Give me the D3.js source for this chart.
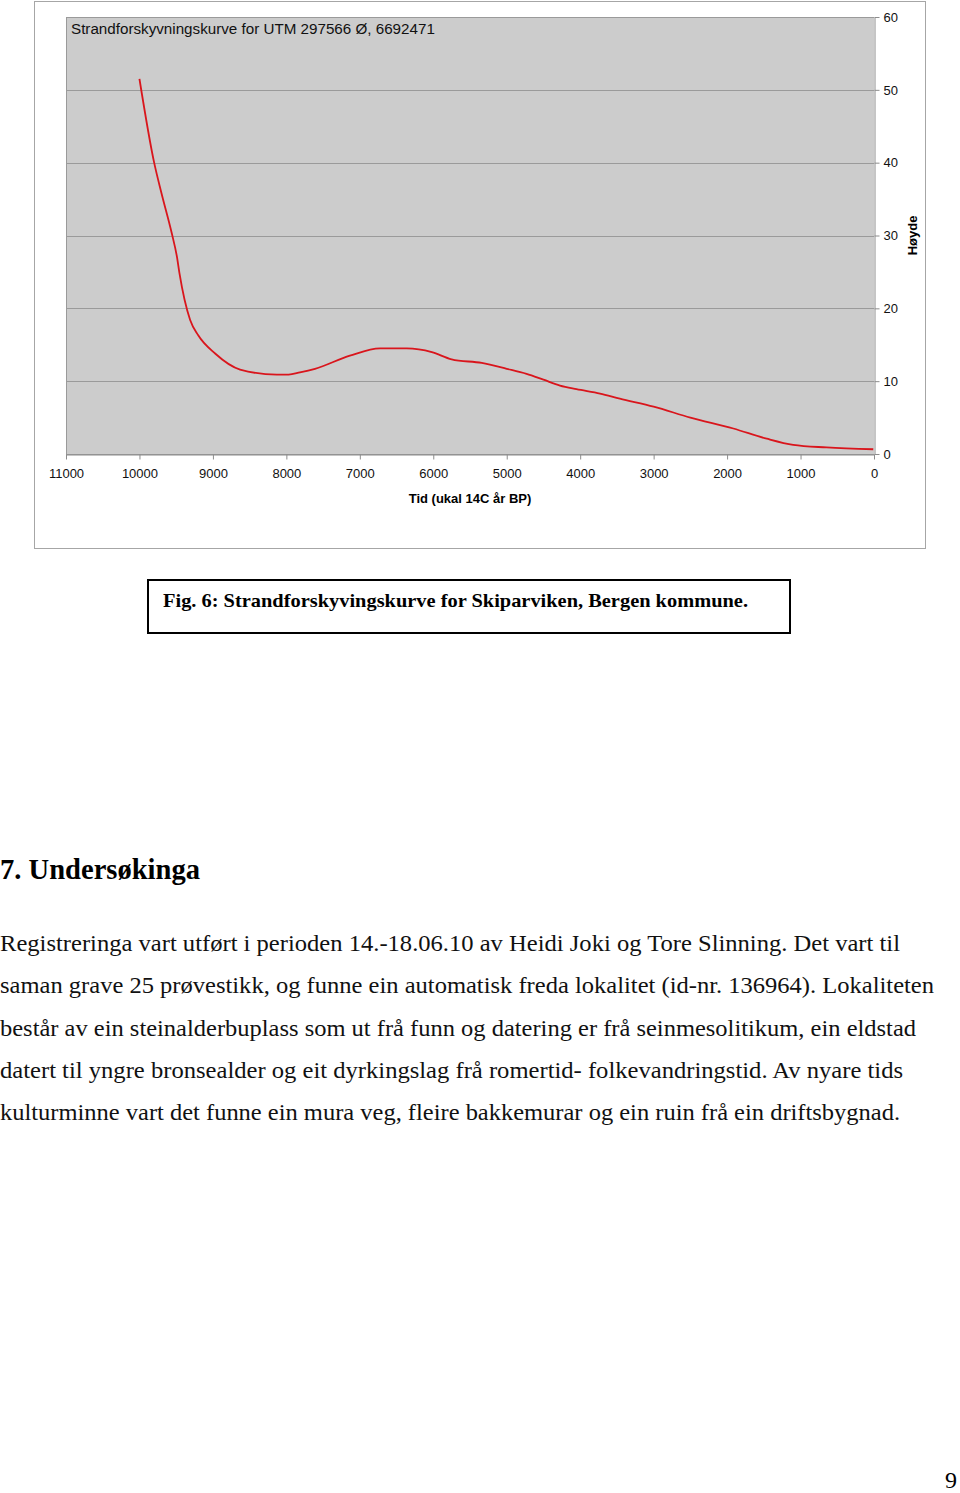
<!DOCTYPE html>
<html>
<head>
<meta charset="utf-8">
<script src="https://cdn.jsdelivr.net/npm/d3@7"></script>
<style>
  body { margin: 0; background: #fff; }
  svg { display: block; }
</style>
</head>
<body>
<div id="page"></div>
<script>
// shoreline displacement curve (years BP, height m)
const years = [10000, 9800, 9700, 9560, 9490, 9455, 9310, 9200, 8970, 8630, 8130, 7970, 7815, 7610, 7135, 6725, 6360, 6020, 5750, 5340, 5000, 4730, 4500, 4275, 4050, 3730, 3460, 3000, 2500, 1915, 1460, 1100, 645, 10];
const heights = [51.5, 40, 35.8, 30.3, 27.1, 24.8, 18.4, 16.3, 13.8, 11.6, 10.9, 10.9, 11.2, 11.7, 13.5, 14.5, 14.5, 14.0, 13.0, 12.5, 11.7, 11.0, 10.2, 9.4, 8.9, 8.3, 7.6, 6.5, 5.0, 3.5, 2.1, 1.25, 0.9, 0.65];
const xTicks = [11000, 10000, 9000, 8000, 7000, 6000, 5000, 4000, 3000, 2000, 1000, 0];
const yTicks = [0, 10, 20, 30, 40, 50, 60];

const chartTitle = 'Strandforskyvningskurve for UTM 297566 Ø, 6692471';
const xTitle = 'Tid (ukal 14C år BP)';
const yTitle = 'Høyde';
const caption = 'Fig. 6: Strandforskyvingskurve for Skiparviken, Bergen kommune.';
const heading = '7. Undersøkinga';
const paragraph = [
  'Registreringa vart utført i perioden 14.-18.06.10 av Heidi Joki og Tore Slinning. Det vart til',
  'saman grave 25 prøvestikk, og funne ein automatisk freda lokalitet (id-nr. 136964). Lokaliteten',
  'består av ein steinalderbuplass som ut frå funn og datering er frå seinmesolitikum, ein eldstad',
  'datert til yngre bronsealder og eit dyrkingslag frå romertid- folkevandringstid. Av nyare tids',
  'kulturminne vart det funne ein mura veg, fleire bakkemurar og ein ruin frå ein driftsbygnad.'
];
const lineWidths = [900, 934, 916, 903, 900];

const sans = "'Liberation Sans', Arial, sans-serif";
const serif = "'Liberation Serif', 'Times New Roman', serif";

const svg = d3.select('#page').append('svg')
  .attr('width', 960)
  .attr('height', 1493);

// chart frame
svg.append('rect')
  .attr('x', 34.5).attr('y', 1.5)
  .attr('width', 891).attr('height', 547)
  .attr('fill', '#fff')
  .attr('stroke', '#a6a6a6');

const x = d3.scaleLinear().domain([11000, 0]).range([66, 874]);
const y = d3.scaleLinear().domain([0, 60]).range([454, 17]);

svg.append('rect')
  .attr('x', x(11000)).attr('y', y(60))
  .attr('width', x(0) - x(11000)).attr('height', y(0) - y(60))
  .attr('fill', '#cccccc');

// gridlines
svg.append('g')
  .selectAll('line')
  .data(yTicks)
  .enter().append('line')
    .attr('x1', x(11000)).attr('x2', x(0))
    .attr('y1', d => Math.round(y(d)) + 0.5)
    .attr('y2', d => Math.round(y(d)) + 0.5)
    .attr('stroke', '#9a9a9a');

svg.append('line')
  .attr('x1', x(11000) + 0.5).attr('x2', x(11000) + 0.5)
  .attr('y1', y(60)).attr('y2', y(0))
  .attr('stroke', '#9a9a9a');

const xAxis = svg.append('g')
  .attr('transform', `translate(0,${Math.round(y(0)) + 0.5})`)
  .call(d3.axisBottom(x).tickValues(xTicks).tickSize(5).tickSizeOuter(0).tickFormat(d => d));
xAxis.selectAll('path, line').attr('stroke', '#8c8c8c');
xAxis.selectAll('text')
  .attr('font-family', sans)
  .attr('font-size', 13)
  .attr('fill', '#111')
  .attr('dy', '0.95em')
  .attr('y', 11);

const yAxis = svg.append('g')
  .attr('transform', `translate(${Math.round(x(0)) + 0.5},0)`)
  .call(d3.axisRight(y).tickValues(yTicks).tickSize(5).tickSizeOuter(0));
yAxis.selectAll('path, line').attr('stroke', '#8c8c8c');
yAxis.selectAll('text')
  .attr('font-family', sans)
  .attr('font-size', 13)
  .attr('fill', '#111')
  .attr('x', 9);

svg.append('text')
  .attr('x', (x(11000) + x(0)) / 2)
  .attr('y', 503)
  .attr('text-anchor', 'middle')
  .attr('font-family', sans)
  .attr('font-size', 13)
  .attr('font-weight', 'bold')
  .text(xTitle);

svg.append('text')
  .attr('transform', `translate(917,${y(30)}) rotate(-90)`)
  .attr('text-anchor', 'middle')
  .attr('font-family', sans)
  .attr('font-size', 13)
  .attr('font-weight', 'bold')
  .text(yTitle);

svg.append('text')
  .attr('x', 71)
  .attr('y', 34)
  .attr('font-family', sans)
  .attr('font-size', 15.2)
  .attr('fill', '#111')
  .text(chartTitle);

// the curve
const line = d3.line()
  .x(d => x(d[0]))
  .y(d => y(d[1]))
  .curve(d3.curveMonotoneX);

svg.append('path')
  .datum(years.map((yr, i) => [yr, heights[i]]))
  .attr('d', line)
  .attr('fill', 'none')
  .attr('stroke', '#d9151c')
  .attr('stroke-width', 1.8);

// caption box
svg.append('rect')
  .attr('x', 148).attr('y', 580)
  .attr('width', 642).attr('height', 53)
  .attr('fill', 'none')
  .attr('stroke', '#000')
  .attr('stroke-width', 2);

svg.append('text')
  .attr('x', 163)
  .attr('y', 607)
  .attr('font-family', serif)
  .attr('font-size', 19)
  .attr('font-weight', 'bold')
  .attr('textLength', 585)
  .attr('lengthAdjust', 'spacingAndGlyphs')
  .text(caption);

svg.append('text')
  .attr('x', 0)
  .attr('y', 879)
  .attr('font-family', serif)
  .attr('font-size', 30)
  .attr('font-weight', 'bold')
  .attr('textLength', 200)
  .attr('lengthAdjust', 'spacingAndGlyphs')
  .text(heading);

svg.append('g')
  .selectAll('text')
  .data(paragraph)
  .enter().append('text')
    .attr('x', 0)
    .attr('y', (d, i) => 951 + i * 42.3)
    .attr('font-family', serif)
    .attr('font-size', 23.5)
    .attr('fill', '#111')
    .attr('textLength', (d, i) => lineWidths[i])
    .attr('lengthAdjust', 'spacingAndGlyphs')
    .text(d => d);

svg.append('text')
  .attr('x', 957)
  .attr('y', 1488)
  .attr('text-anchor', 'end')
  .attr('font-family', serif)
  .attr('font-size', 24)
  .text('9');
</script>
</body>
</html>
